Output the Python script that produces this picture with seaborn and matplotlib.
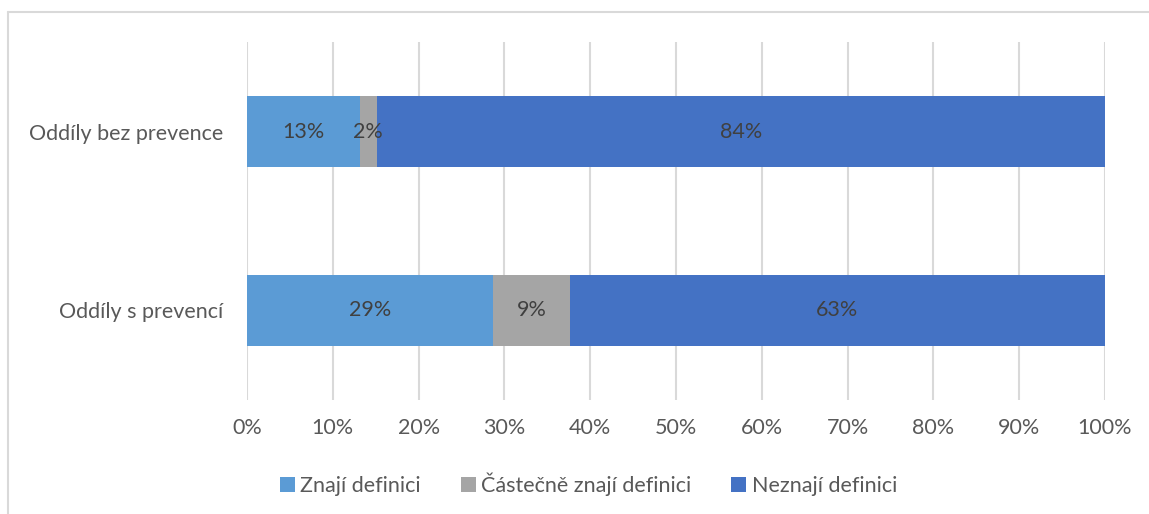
import numpy as np
import pandas as pd
import matplotlib
matplotlib.use("Agg")
import matplotlib.pyplot as plt
import seaborn as sns
from matplotlib.lines import Line2D
from matplotlib.patches import Patch

# data (Excel 100% stacked: raw percentages normalised per row)
groups = ["Oddíly bez prevence", "Oddíly s prevencí"]
series = ["Znají definici", "Částečně znají definici", "Neznají definici"]
znaji = [13, 29]
castecne = [2, 9]
neznaji = [84, 63]
colors = ["#5B9BD5", "#A5A5A5", "#4472C4"]

sns.set_theme(style="white")
plt.rcParams['font.family'] = ['Lato', 'DejaVu Sans']

raw = pd.DataFrame({"group": groups, series[0]: znaji, series[1]: castecne, series[2]: neznaji})
vals = raw[series].to_numpy(dtype=float)
share = vals / vals.sum(axis=1, keepdims=True) * 100
cum = np.cumsum(share, axis=1)

fig = plt.figure(figsize=(11.49, 5.14), dpi=100)
ax = fig.add_axes([247 / 1149, 1 - 400 / 514, (1105 - 247) / 1149, 358 / 514])

# draw cumulative bars from the last series back to the first
for i in range(len(series) - 1, -1, -1):
    d = pd.DataFrame({"group": groups, "x": cum[:, i]})
    sns.barplot(data=d, y="group", x="x", order=groups, color=colors[i],
                width=0.4, saturation=1, ax=ax, orient="h", zorder=3, linewidth=0)

for r in range(len(groups)):
    for i in range(len(series)):
        start = cum[r, i] - share[r, i]
        ax.text(start + share[r, i] / 2, r, f"{vals[r, i]:.0f}%", ha="center", va="center",
                fontsize=15.5, color="#404040", zorder=5)

ax.set_xlim(0, 100)
ax.set_ylim(1.5, -0.5)
ax.set_xticks(np.arange(0, 101, 10))
ax.set_xticklabels([f"{t}%" for t in range(0, 101, 10)])
ax.xaxis.grid(True, color="#D9D9D9", linewidth=1.5, zorder=0)
ax.set_axisbelow(True)
for s in ax.spines.values():
    s.set_visible(False)
ax.tick_params(axis="both", length=0, labelsize=15.5, labelcolor="#595959")
ax.tick_params(axis="x", pad=13)
ax.tick_params(axis="y", pad=17)
ax.set_xlabel("")
ax.set_ylabel("")

handles = [Patch(facecolor=c, edgecolor="none") for c in colors]
fig.legend(handles, series, loc="center", bbox_to_anchor=(0.512, 1 - 484 / 514), ncol=3,
           frameon=False, fontsize=15.5, labelcolor="#595959", handlelength=0.7,
           handleheight=0.7, handletextpad=0.25, columnspacing=1.85)

# chart border (left and top visible)
fig.add_artist(Line2D([8 / 1149, 8 / 1149], [0, 1 - 12 / 514], color="#D9D9D9", lw=1.5))
fig.add_artist(Line2D([8 / 1149, 1], [1 - 12 / 514, 1 - 12 / 514], color="#D9D9D9", lw=1.5))

fig.savefig("out.png", dpi=100)
